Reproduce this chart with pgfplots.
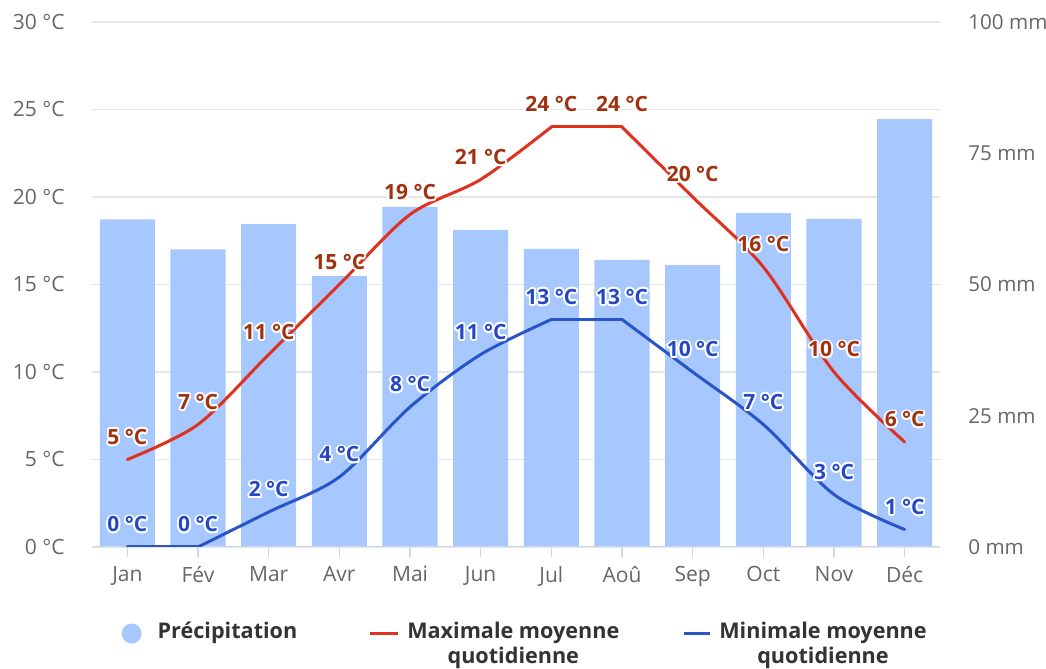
\documentclass[border=0pt]{standalone}
\usepackage{pgfplots}
\pgfplotsset{compat=1.18}
\usepackage{fontspec}
\setmainfont{Open Sans}
\usepackage{contour}
\contourlength{0.9pt}
\definecolor{barblue}{HTML}{A6C8FF}
\definecolor{maxred}{HTML}{E0301E}
\definecolor{minblue}{HTML}{2A55C8}
\definecolor{maxlab}{HTML}{A0320F}
\definecolor{minlab}{HTML}{2448C4}
\definecolor{gridc}{HTML}{E6E6E6}
\definecolor{axc}{HTML}{CCD6EB}
\definecolor{tickc}{HTML}{666666}
\definecolor{legc}{HTML}{333333}
\tikzset{lbl/.style={font=\bfseries\fontsize{10.5}{12}\selectfont, anchor=base, yshift=7.5pt, inner sep=0pt}}
\pgfplotsset{
  common/.style={scale only axis, width=424pt, height=262.5pt, xmin=-0.5, xmax=11.5,
    /pgf/number format/assume math mode=true},
}
\begin{document}
\begin{tikzpicture}
% ---------- precipitation axis (right) ----------
\begin{axis}[common, ymin=0, ymax=100,
  axis line style={draw=none},
  xtick={0,...,11},
  xticklabels={Jan,Fév,Mar,Avr,Mai,Jun,Jul,Aoû,Sep,Oct,Nov,Déc},
  xtick pos=bottom, tick align=outside, major tick length=5pt,
  x tick style={draw=axc, line width=0.8pt},
  xticklabel style={color=tickc, font=\fontsize{10.5}{12}\selectfont, anchor=north, inner sep=0pt, yshift=-4.5pt},
  ytick={0,16.6667,33.3333,50,66.6667,83.3333,100}, yticklabels={},
  ymajorgrids, grid style={gridc, line width=0.6pt},
  y tick style={draw=none},
  extra y ticks={0,25,50,75,100},
  extra y tick labels={0 mm,25 mm,50 mm,75 mm,100 mm},
  extra y tick style={grid=none, y tick style={draw=none}},
  ytick pos=right, yticklabel pos=right,
  yticklabel style={anchor=west, inner sep=0pt, xshift=9pt, color=tickc, font=\fontsize{10.3}{12}\selectfont},
]
\addplot[ybar, bar width=0.78, fill=barblue, draw=none] coordinates {
  (0,62.4) (1,56.7) (2,61.5) (3,51.6) (4,64.8) (5,60.4)
  (6,56.8) (7,54.7) (8,53.7) (9,63.6) (10,62.5) (11,81.5)};
\draw[axc, line width=0.8pt] (rel axis cs:0,0) -- (rel axis cs:1,0);
\end{axis}
% ---------- temperature axis (left) ----------
\begin{axis}[common, ymin=0, ymax=30,
  axis line style={draw=none},
  xtick=\empty,
  ytick={0,5,...,30},
  yticklabels={0 °C,5 °C,10 °C,15 °C,20 °C,25 °C,30 °C},
  y tick style={draw=none}, ytick pos=left,
  yticklabel style={anchor=east, inner sep=0pt, xshift=-13.5pt, color=tickc, font=\fontsize{10.5}{12}\selectfont},
  legend columns=3,
  legend style={at={(0.512,-0.135)}, anchor=north, draw=none, fill=none,
    font=\bfseries\fontsize{10.8}{12.5}\selectfont, text=legc,
    cells={align=center}, inner sep=0pt,
    /tikz/every odd column/.append style={column sep=2pt},
    /tikz/column 2/.style={column sep=33.5pt},
    /tikz/column 4/.style={column sep=29.5pt}},
]
\addlegendimage{legend image code/.code={\path[draw=none] (0pt,0pt) -- (14pt,0pt); \fill[barblue, draw=none] (5pt,5.5pt) circle (5pt);}}
\addlegendentry{Précipitation\\\strut}
\addlegendimage{legend image code/.code={\draw[maxred, line width=1.5pt] (0pt,5.5pt) -- (14pt,5.5pt);}}
\addlegendentry{Maximale moyenne\\quotidienne}
\addlegendimage{legend image code/.code={\draw[minblue, line width=1.5pt] (0pt,5.5pt) -- (13pt,5.5pt);}}
\addlegendentry{Minimale moyenne\\quotidienne}
% max line
\addplot[maxred, line width=1.5pt, line cap=round, smooth, forget plot] coordinates {(0,5) (1,7) (2,11) (3,15) (4,19) (5,21) (6,24)};
\addplot[maxred, line width=1.5pt, line cap=round, forget plot] coordinates {(6,24) (7,24)};
\addplot[maxred, line width=1.5pt, line cap=round, smooth, forget plot] coordinates {(7,24) (8,20) (9,16) (10,10) (11,6)};
% min line
\addplot[minblue, line width=1.5pt, line cap=round, forget plot] coordinates {(0,0) (1,0)};
\addplot[minblue, line width=1.5pt, line cap=round, smooth, forget plot] coordinates {(1,0) (2,2) (3,4) (4,8) (5,11) (6,13)};
\addplot[minblue, line width=1.5pt, line cap=round, forget plot] coordinates {(6,13) (7,13)};
\addplot[minblue, line width=1.5pt, line cap=round, smooth, forget plot] coordinates {(7,13) (8,10) (9,7) (10,3) (11,1)};
% labels
\addplot[draw=none, mark=none, forget plot, point meta=y,
  nodes near coords={\contour{white}{\pgfmathprintnumber{\pgfplotspointmeta}\ °C}},
  every node near coord/.style={lbl, color=maxlab}] coordinates {
  (0,5) (1,7) (2,11) (3,15) (4,19) (5,21) (6,24) (7,24) (8,20) (9,16) (10,10) (11,6)};
\addplot[draw=none, mark=none, forget plot, point meta=y,
  nodes near coords={\contour{white}{\pgfmathprintnumber{\pgfplotspointmeta}\ °C}},
  every node near coord/.style={lbl, color=minlab}] coordinates {
  (0,0) (1,0) (2,2) (3,4) (4,8) (5,11) (6,13) (7,13) (8,10) (9,7) (10,3) (11,1)};
\coordinate (bl) at (rel axis cs:-0.1085,-0.2305);
\coordinate (tr) at (rel axis cs:1.125,1.0419);
\end{axis}
\pgfresetboundingbox
\path (bl) rectangle (tr);
\end{tikzpicture}
\end{document}
